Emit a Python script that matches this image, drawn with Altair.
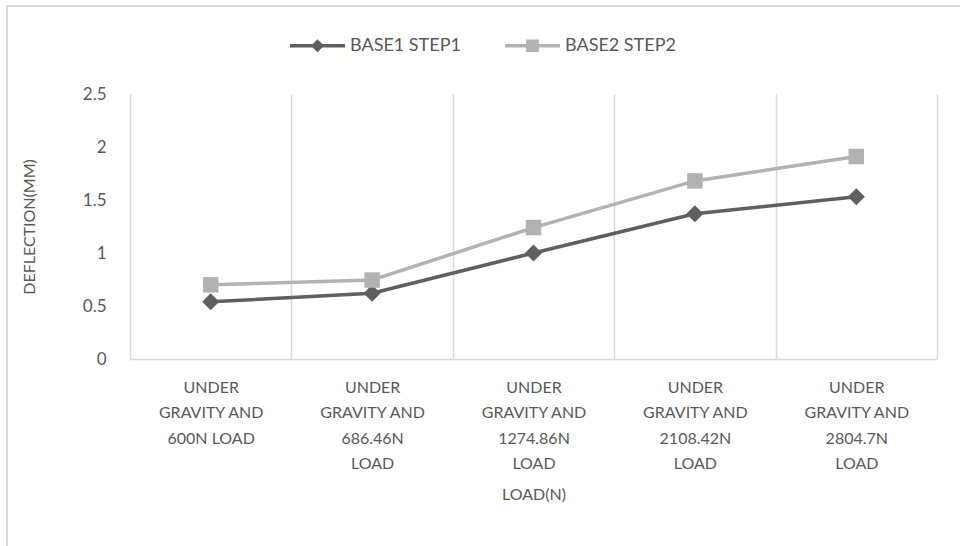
import altair as alt
import pandas as pd

# Load cases (x categories); "\n" marks where each label wraps
categories = [
    "UNDER\nGRAVITY AND\n600N LOAD",
    "UNDER\nGRAVITY AND\n686.46N\nLOAD",
    "UNDER\nGRAVITY AND\n1274.86N\nLOAD",
    "UNDER\nGRAVITY AND\n2108.42N\nLOAD",
    "UNDER\nGRAVITY AND\n2804.7N\nLOAD",
]
series_names = ["BASE1 STEP1", "BASE2 STEP2"]
base1_step1 = [0.54, 0.62, 1.00, 1.37, 1.53]
base2_step2 = [0.70, 0.745, 1.24, 1.68, 1.91]
y_ticks = [0, 0.5, 1, 1.5, 2, 2.5]

rows = []
for name, values in zip(series_names, [base1_step1, base2_step2]):
    for cat, val in zip(categories, values):
        rows.append({"load": cat, "series": name, "deflection": val})
df = pd.DataFrame(rows)

FONT = "Lato"
TEXT = "#595959"
GRID = "#d9d9d9"
colors = ["#5f5f5f", "#b2b2b2"]
markers = ["diamond", "square"]
marker_sizes = [290, 240]

# legend glyphs: a short line with the series marker on it
legend_paths = [
    "M-1,-0.06H1V0.06H-1Z M0,-0.24L0.24,0L0,0.24L-0.24,0Z",
    "M-1,-0.06H1V0.06H-1Z M-0.23,-0.23H0.23V0.23H-0.23Z",
]

x_enc = alt.X(
    "load:N",
    sort=categories,
    title="LOAD(N)",
    bandPosition=0.5,
    scale=alt.Scale(type="band", paddingInner=0, paddingOuter=0),
    axis=alt.Axis(
        labelAngle=0,
        labelExpr="split(datum.label, '\\n')",
        labelLineHeight=25.5,
        labelBaseline="top",
        labelPadding=20,
        labelFont=FONT,
        labelFontSize=16,
        labelColor=TEXT,
        labelLimit=200,
        tickBand="extent",
        grid=True,
        gridColor=GRID,
        gridWidth=1.5,
        ticks=False,
        domainColor=GRID,
        domainWidth=1.5,
        titleFont=FONT,
        titleFontSize=16,
        titleFontWeight="normal",
        titleColor=TEXT,
        titlePadding=15,
    ),
)
y_enc = alt.Y(
    "deflection:Q",
    scale=alt.Scale(domain=[0, 2.5]),
    axis=alt.Axis(
        values=y_ticks,
        format="~g",
        grid=False,
        ticks=False,
        domain=False,
        labelFont=FONT,
        labelFontSize=17,
        labelColor=TEXT,
        labelPadding=24,
        title="DEFLECTION(MM)",
        titleFont=FONT,
        titleFontSize=16,
        titleFontWeight="normal",
        titleColor=TEXT,
        titlePadding=45,
    ),
)

lines = [
    alt.Chart(df)
    .transform_filter(alt.datum.series == name)
    .mark_line(strokeWidth=3.5, color=col)
    .encode(x=x_enc, y=y_enc)
    for name, col in zip(series_names, colors)
]

points = [
    alt.Chart(df)
    .transform_filter(alt.datum.series == name)
    .mark_point(filled=True, opacity=1, shape=shape, size=size, color=col)
    .encode(x=x_enc, y=y_enc)
    for name, col, shape, size in zip(series_names, colors, markers, marker_sizes)
]

legend_common = dict(
    orient="none",
    legendX=160,
    legendY=-76,
    direction="horizontal",
    title=None,
    symbolSize=3025,
    symbolStrokeWidth=0,
    labelFont=FONT,
    labelFontSize=18,
    labelColor=TEXT,
    labelOffset=5,
    columnPadding=44,
)

# draws nothing itself; carries the legend (line + marker glyph per series)
legend_layer = (
    alt.Chart(df)
    .transform_filter("false")
    .mark_point(filled=True, opacity=1)
    .encode(
        x=x_enc,
        y=y_enc,
        color=alt.Color(
            "series:N",
            scale=alt.Scale(domain=series_names, range=colors),
            legend=alt.Legend(**legend_common),
        ),
        shape=alt.Shape(
            "series:N",
            scale=alt.Scale(domain=series_names, range=legend_paths),
            legend=alt.Legend(**legend_common),
        ),
    )
)

# thin frame around the whole figure
frame = alt.Chart(alt.Data(values=[{"f": 1}])).mark_rect(
    fill=None, stroke=GRID, strokeWidth=2
).encode(
    x=alt.value(-123),
    x2=alt.value(850),
    y=alt.value(-88),
    y2=alt.value(460),
)

chart = alt.layer(frame, *lines, *points, legend_layer).properties(
    width=807,
    height=265,
    autosize=alt.AutoSizeParams(type="none"),
    padding={"left": 130, "top": 94, "right": 23, "bottom": 187},
    background="white",
).configure_view(stroke=None)

chart.save("out.html", embed_options={"renderer": "svg", "actions": False})
